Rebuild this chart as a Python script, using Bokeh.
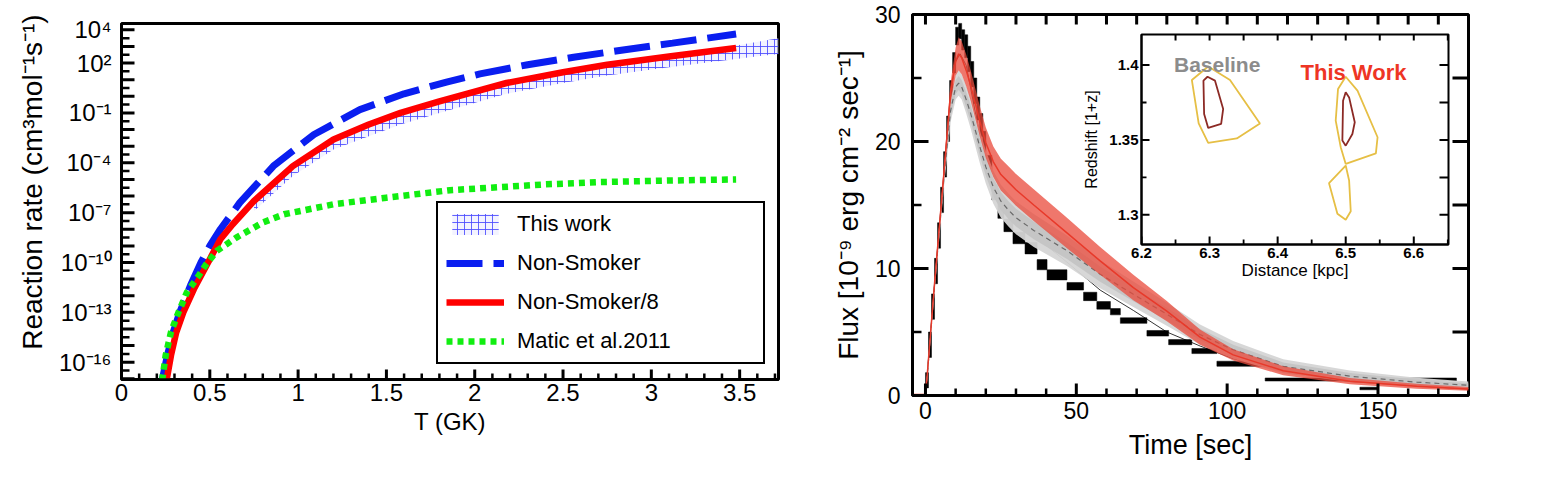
import json
import math
import numpy as np
from bokeh.plotting import figure
from bokeh.models import Range1d, FixedTicker, Legend, LegendItem, CustomJSTickFormatter
from bokeh.layouts import row
from bokeh.embed import file_html
from bokeh.resources import INLINE
from bokeh.core.properties import value

FONT = "Liberation Sans"

# ---------------- Left panel data (log10 of reaction rate) ----------------
T_nonsmoker = [0.23, 0.26, 0.29, 0.33, 0.39, 0.45, 0.50, 0.56, 0.67, 0.86, 1.09,
               1.35, 1.60, 1.84, 2.03, 2.30, 2.56, 2.85, 3.12, 3.48]
log_nonsmoker = [-17.1, -15.6, -14.3, -13.0, -11.4, -10.0, -9.0, -8.0, -6.4, -4.2, -2.3,
                 -0.8, 0.15, 0.85, 1.35, 1.9, 2.35, 2.8, 3.2, 3.75]

T_ns8 = [0.255, 0.28, 0.31, 0.35, 0.41, 0.50, 0.56, 0.63, 0.75, 0.97, 1.20, 1.40,
         1.58, 1.80, 2.18, 2.50, 2.75, 3.10, 3.48]
log_ns8 = [-17.1, -15.6, -14.2, -13.0, -11.6, -9.8, -8.6, -7.7, -6.3, -4.2, -2.6, -1.7,
           -1.0, -0.3, 0.8, 1.45, 1.9, 2.4, 2.9]

T_matic = [0.23, 0.25, 0.28, 0.315, 0.37, 0.43, 0.48, 0.54, 0.65, 0.80, 0.92, 1.20,
           1.50, 1.86, 2.40, 2.71, 3.10, 3.48]
log_matic = [-17.1, -15.6, -14.2, -13.2, -11.8, -10.9, -10.1, -9.3, -8.5, -7.6, -7.1, -6.5,
             -6.1, -5.65, -5.3, -5.16, -5.07, -5.0]

T_band = [0.75, 0.97, 1.20, 1.40, 1.58, 1.80, 2.18, 2.50, 2.75, 3.10, 3.48, 3.72]
log_band_lo = [-6.9, -4.8, -3.2, -2.4, -1.7, -1.0, 0.15, 0.8, 1.25, 1.75, 2.25, 2.55]
log_band_hi = [-6.2, -4.05, -2.45, -1.55, -0.85, -0.15, 0.95, 1.6, 2.05, 2.55, 3.05, 3.5]

x1_ticks = [0, 0.5, 1, 1.5, 2, 2.5, 3, 3.5]
x1_minor = [0.1, 0.2, 0.3, 0.4, 0.6, 0.7, 0.8, 0.9, 1.1, 1.2, 1.3, 1.4, 1.6, 1.7, 1.8, 1.9,
            2.1, 2.2, 2.3, 2.4, 2.6, 2.7, 2.8, 2.9, 3.1, 3.2, 3.3, 3.4, 3.6, 3.7]
y1_exponents = list(range(-17, 5))
y1_minor_exponents = [k + 0.5 for k in range(-17, 4)]
y1_labeled_exponents = [-16, -13, -10, -7, -4, -1, 2, 4]

# ---------------- Right panel data ----------------
bin_lo = [0, 1, 2, 3, 4, 5, 6, 7, 8, 9, 10, 11, 12, 13, 14, 15, 16, 17, 18, 19, 20, 22, 24,
          26, 29, 33, 37, 40.3, 46.9, 52.4, 56.8, 61.3, 64.6, 73.4, 80.6, 88.3, 96.6, 112.6, 144]
bin_hi = [1, 2, 3, 4, 5, 6, 7, 8, 9, 10, 11, 12, 13, 14, 15, 16, 17, 18, 19, 20, 22, 24, 26,
          29, 33, 37, 40.3, 46.9, 52.4, 56.8, 61.3, 64.6, 73.4, 80.6, 88.3, 96.6, 112.6, 176, 150]
flux_obs = [1.2, 4.0, 7.0, 9.8, 12.6, 15.4, 18.2, 21.0, 23.8, 26.2, 28.3, 28.7, 28.0, 27.5,
            26.5, 25.3, 24.0, 22.6, 21.3, 20.0, 18.2, 16.0, 14.5, 13.4, 12.4, 11.6, 10.3, 9.5,
            8.6, 7.8, 7.1, 6.6, 5.9, 4.9, 4.2, 3.5, 2.5, 1.26, 0.55]
flux_err = [0.6, 1.0, 1.0, 1.0, 1.0, 1.0, 1.0, 1.0, 1.0, 0.8, 0.7, 0.6, 0.8, 0.9, 1.0, 1.0,
            1.0, 0.9, 0.9, 0.8, 0.7, 0.6, 0.55, 0.5, 0.45, 0.45, 0.4, 0.4, 0.3, 0.33, 0.3,
            0.25, 0.22, 0.22, 0.2, 0.2, 0.2, 0.12, 0.1]

t_model = [-4.3, 0, 0.5, 3, 6, 8.3, 10, 11, 12, 13.5, 15, 18, 20, 22.5, 25, 27.5, 30, 35.9,
           46.9, 57.9, 68.9, 80, 91, 102, 118.6, 140.7, 162.8, 180]
flux_this_work = [0.08, 0.1, 1.4, 8.8, 17.2, 23.8, 26.3, 26.9, 26.6, 25.6, 24.4, 21.6, 19.9,
                  18.4, 17.4, 16.8, 16.2, 15.0, 12.8, 10.6, 8.5, 6.65, 4.6, 3.2, 1.95, 1.13,
                  0.73, 0.52]
width_this_work = [0, 0, 0.2, 0.4, 0.6, 0.8, 1.1, 1.3, 1.3, 1.25, 1.2, 1.2, 1.2, 1.2, 1.25,
                   1.25, 1.25, 1.25, 1.2, 1.1, 1.0, 0.8, 0.6, 0.45, 0.35, 0.25, 0.2, 0.15]
flux_baseline = [0.0, 0.0, 1.3, 8.6, 16.8, 22.4, 24.3, 24.6, 24.3, 23.3, 22.2, 19.6, 18.0,
                 16.4, 15.3, 14.6, 14.0, 13.0, 11.4, 9.55, 7.97, 6.4, 4.8, 3.6, 2.3, 1.52,
                 1.05, 0.81]
width_baseline_outer = [0, 0, 0.3, 0.5, 0.7, 0.9, 1.0, 1.0, 1.0, 1.1, 1.2, 1.3, 1.3, 1.3,
                        1.3, 1.3, 1.3, 1.3, 1.2, 1.1, 1.0, 0.9, 0.8, 0.7, 0.55, 0.45, 0.35,
                        0.3]
width_baseline_inner = [0, 0, 0.15, 0.3, 0.4, 0.5, 0.55, 0.55, 0.55, 0.6, 0.65, 0.7, 0.7,
                        0.7, 0.7, 0.7, 0.7, 0.7, 0.65, 0.6, 0.55, 0.5, 0.45, 0.4, 0.3, 0.25,
                        0.2, 0.15]
t_thin = [0.5, 3, 6, 8.3, 10, 11.5, 13.5, 18, 24.8, 35.9, 46.9, 57.9, 68.9, 80, 91, 102,
          118.6, 140.7, 180]
flux_thin = [1.4, 8.8, 17.2, 23.8, 26.3, 26.9, 26.0, 20.5, 15.0, 12.6, 10.5, 8.3, 6.7, 5.0,
             3.9, 2.9, 1.9, 1.1, 0.5]

x2_ticks = [0, 50, 100, 150]
x2_minor = [10, 20, 30, 40, 60, 70, 80, 90, 110, 120, 130, 140, 160, 170]
x2_top = [0, 10, 20, 30, 40, 50, 60, 70, 80, 90, 100, 110, 120, 130, 140, 150, 160, 170]
y2_ticks = [0, 10, 20, 30]
y2_minor = [5, 15, 25]
y2_right = [5, 10, 15, 20, 25]

# ---------------- Inset data (contours) ----------------
base_outer_x = [6.274, 6.298, 6.330, 6.374, 6.340, 6.298, 6.284]
base_outer_y = [1.390, 1.399, 1.390, 1.361, 1.351, 1.348, 1.361]
base_inner_x = [6.291, 6.297, 6.308, 6.320, 6.317, 6.298, 6.292]
base_inner_y = [1.3896, 1.3922, 1.3896, 1.3707, 1.3607, 1.3580, 1.3673]
work_outer1_x = [6.500, 6.4887, 6.4853, 6.4927, 6.500, 6.5443, 6.5468, 6.5173]
work_outer1_y = [1.3922, 1.384, 1.3629, 1.3451, 1.334, 1.3411, 1.3518, 1.3829]
work_outer2_x = [6.500, 6.4755, 6.4878, 6.500, 6.5074, 6.5050]
work_outer2_y = [1.3329, 1.3211, 1.3007, 1.2967, 1.3024, 1.3229]
work_inner_x = [6.500, 6.4961, 6.4951, 6.500, 6.5098, 6.5133, 6.5050]
work_inner_y = [1.3818, 1.3762, 1.3496, 1.3462, 1.354, 1.3618, 1.3784]

x3_ticks = [6.2, 6.3, 6.4, 6.5, 6.6]
x3_minor = [6.25, 6.35, 6.45, 6.55, 6.65]
x3_top = [6.25, 6.3, 6.35, 6.4, 6.45, 6.5, 6.55, 6.6, 6.65]
y3_ticks = [1.3, 1.35, 1.4]
y3_minor = [1.325, 1.375]
y3_right = [1.3, 1.325, 1.35, 1.375, 1.4]


def frame_style(p, lw):
    p.grid.visible = False
    p.outline_line_color = "black"
    p.outline_line_width = lw
    p.outline_line_alpha = 1


def axis_style(ax, label_size, width):
    ax.axis_line_color = "black"
    ax.axis_line_width = width
    ax.major_tick_in = 0
    ax.major_tick_out = 0
    ax.minor_tick_in = 0
    ax.minor_tick_out = 0
    ax.major_label_text_font = FONT
    ax.major_label_text_font_size = label_size
    ax.major_label_text_color = "black"
    ax.axis_label_text_font = FONT
    ax.axis_label_text_font_style = "normal"
    ax.axis_label_text_color = "black"


class Frame:
    """Inward tick marks drawn as small filled quads, sized in pixels of the frame."""

    def __init__(self, p, X, Y, fw, fh, ylog=False):
        self.p, self.X, self.Y, self.fw, self.fh, self.ylog = p, X, Y, fw, fh, ylog

    def _ymove(self, y, px):
        if self.ylog:
            dec = math.log10(self.Y[1]) - math.log10(self.Y[0])
            return y * 10 ** (px / self.fh * dec)
        return y + px / self.fh * (self.Y[1] - self.Y[0])

    def _xmove(self, x, px):
        return x + px / self.fw * (self.X[1] - self.X[0])

    def ticks(self, side, pos, length, width):
        n = len(pos)
        if side in ("bottom", "top"):
            edge = self.Y[0] if side == "bottom" else self.Y[1]
            end = self._ymove(edge, length if side == "bottom" else -length)
            left = [self._xmove(v, -width / 2) for v in pos]
            right = [self._xmove(v, width / 2) for v in pos]
            bottom = [min(edge, end)] * n
            top = [max(edge, end)] * n
        else:
            edge = self.X[0] if side == "left" else self.X[1]
            end = self._xmove(edge, length if side == "left" else -length)
            left = [min(edge, end)] * n
            right = [max(edge, end)] * n
            bottom = [self._ymove(v, -width / 2) for v in pos]
            top = [self._ymove(v, width / 2) for v in pos]
        self.p.quad(left=left, right=right, bottom=bottom, top=top,
                    fill_color="black", line_color=None)


# ================= LEFT FIGURE =================
X1 = (0, 3.72)
Y1 = (10 ** -17.04, 10 ** 4.38)
W1, H1, L1, R1, T1, B1 = 790, 470, 121, 12, 23, 91
p1 = figure(width=W1, height=H1, x_range=Range1d(*X1), y_range=Range1d(*Y1),
            y_axis_type="log", output_backend="svg", toolbar_location=None, title=None,
            frame_align=False,
            min_border_left=L1, min_border_right=R1, min_border_top=T1,
            min_border_bottom=B1)
frame_style(p1, 3)
f1 = Frame(p1, X1, Y1, W1 - L1 - R1, H1 - T1 - B1, ylog=True)

r_band = p1.varea(x=T_band, y1=10.0 ** np.array(log_band_lo),
                  y2=10.0 ** np.array(log_band_hi),
                  fill_color="#eeeeff", fill_alpha=0.7, hatch_pattern="cross",
                  hatch_color="#4a4aff", hatch_scale=7, hatch_weight=1, hatch_alpha=0.85)
r_blue = p1.line(T_nonsmoker, 10.0 ** np.array(log_nonsmoker), line_color="#0a1ef0",
                 line_width=7, line_dash="36 11")
r_red = p1.line(T_ns8, 10.0 ** np.array(log_ns8), line_color="#ff0000", line_width=6.5,
                line_join="round")
r_green = p1.line(T_matic, 10.0 ** np.array(log_matic), line_color="#11ee11", line_width=6.5,
                  line_dash="6 5")

f1.ticks("bottom", x1_ticks, 10, 3)
f1.ticks("bottom", x1_minor, 6, 2.5)
f1.ticks("left", [10.0 ** e for e in y1_exponents], 13, 3)
f1.ticks("left", [10.0 ** e for e in y1_minor_exponents], 8, 2.5)

xa1 = p1.xaxis[0]
axis_style(xa1, "24px", 2.5)
xa1.ticker = FixedTicker(ticks=x1_ticks, minor_ticks=[])
xa1.formatter = CustomJSTickFormatter(code="return String(Math.round(tick*10)/10);")
xa1.axis_label = "T (GK)"
xa1.axis_label_text_font_size = "24px"
xa1.major_label_standoff = 4
xa1.axis_label_standoff = 4

ya1 = p1.yaxis[0]
axis_style(ya1, "24px", 2.5)
ya1.ticker = FixedTicker(ticks=[10.0 ** e for e in y1_exponents], minor_ticks=[])
ya1.formatter = CustomJSTickFormatter(code="""
const labeled = %s;
const e = Math.round(Math.log10(tick));
if (!labeled.includes(e)) return "";
const sup = {"-":"\u207b","0":"\u2070","1":"\u00b9","2":"\u00b2","3":"\u00b3","4":"\u2074",
             "5":"\u2075","6":"\u2076","7":"\u2077","8":"\u2078","9":"\u2079"};
return "10" + String(e).split("").map(c => sup[c]).join("");
""" % json.dumps(y1_labeled_exponents))
ya1.axis_label = "\u00a0\u00a0\u00a0\u00a0\u00a0Reaction rate (cm\u00b3mol\u207b\u00b9s\u207b\u00b9)"
ya1.axis_label_text_font_size = "28px"
ya1.major_label_standoff = 10
ya1.axis_label_standoff = 8

legend = Legend(items=[LegendItem(label="This work", renderers=[r_band]),
                       LegendItem(label="Non-Smoker", renderers=[r_blue]),
                       LegendItem(label="Non-Smoker/8", renderers=[r_red]),
                       LegendItem(label="Matic et al.2011", renderers=[r_green])],
                location=(315, 15), label_text_font=FONT, label_text_font_size="22px",
                label_text_color="black", glyph_width=58, glyph_height=26,
                label_height=26, label_width=238, label_standoff=13, padding=8,
                spacing=13, border_line_color="black", border_line_width=2,
                border_line_alpha=1, background_fill_color="white",
                background_fill_alpha=1, margin=0)
p1.add_layout(legend)

# ================= RIGHT FIGURE =================
X2 = (-4.3, 180)
Y2 = (0, 30)
W2, H2, L2, R2, T2, B2 = 760, 470, 122, 82, 14, 75
p2 = figure(width=W2, height=H2, x_range=Range1d(*X2), y_range=Range1d(*Y2),
            output_backend="svg", toolbar_location=None, title=None, frame_align=False,
            min_border_left=L2, min_border_right=R2, min_border_top=T2,
            min_border_bottom=B2)
frame_style(p2, 3)
f2 = Frame(p2, X2, Y2, W2 - L2 - R2, H2 - T2 - B2)

fo = np.array(flux_obs)
fe = np.array(flux_err)
p2.quad(left=bin_lo, right=bin_hi, bottom=fo - fe, top=fo + fe, fill_color="black",
        line_color="black", line_width=0.5)
p2.line(t_thin, flux_thin, line_color="black", line_width=0.8)

fb = np.array(flux_baseline)
wbo = np.array(width_baseline_outer)
wbi = np.array(width_baseline_inner)
p2.varea(x=t_model, y1=fb - wbo, y2=fb + wbo, fill_color="#d5d5d5", fill_alpha=0.95)
p2.varea(x=t_model, y1=fb - wbi, y2=fb + wbi, fill_color="#c4c4c4", fill_alpha=0.95)
p2.line(t_model, flux_baseline, line_color="#6a6a6a", line_width=1.2, line_dash="5 4")

fw = np.array(flux_this_work)
ww = np.array(width_this_work)
p2.varea(x=t_model, y1=fw - ww, y2=fw + ww, fill_color="#ea4a3b", fill_alpha=0.75)
p2.line(t_model, flux_this_work, line_color="#e8392a", line_width=1.5)

f2.ticks("bottom", x2_ticks, 12, 3)
f2.ticks("bottom", x2_minor, 7, 2.5)
f2.ticks("left", y2_ticks, 16, 3)
f2.ticks("left", y2_minor, 9, 2.5)
f2.ticks("top", x2_top, 10, 3)
f2.ticks("right", y2_right, 16, 3)

xa2 = p2.xaxis[0]
axis_style(xa2, "23px", 3)
xa2.ticker = FixedTicker(ticks=x2_ticks, minor_ticks=[])
xa2.axis_label = "Time [sec]"
xa2.axis_label_text_font_size = "27px"
xa2.major_label_standoff = 6
xa2.axis_label_standoff = 8

ya2 = p2.yaxis[0]
axis_style(ya2, "23px", 3)
ya2.ticker = FixedTicker(ticks=y2_ticks, minor_ticks=[])
ya2.axis_label = "Flux [10\u207b\u2079 erg cm\u207b\u00b2 sec\u207b\u00b9]"
ya2.axis_label_text_font_size = "28px"
ya2.major_label_standoff = 12
ya2.axis_label_standoff = 8

# ================= INSET =================
X3 = (6.2, 6.651)
Y3 = (1.2802, 1.4204)
W3, H3, L3, R3, T3, B3 = 380, 260, 61, 12, 9, 41
p3 = figure(width=W3, height=H3, x_range=Range1d(*X3), y_range=Range1d(*Y3),
            output_backend="svg", toolbar_location=None, title=None, frame_align=False,
            min_border_left=L3, min_border_right=R3, min_border_top=T3,
            min_border_bottom=B3, margin=(25, 0, 0, -470),
            border_fill_color=None, background_fill_color="white")
frame_style(p3, 2)
f3 = Frame(p3, X3, Y3, W3 - L3 - R3, H3 - T3 - B3)

gold = "#e6bf45"
dred = "#8c2a25"
p3.patches(xs=[base_outer_x, work_outer1_x, work_outer2_x],
           ys=[base_outer_y, work_outer1_y, work_outer2_y],
           fill_color=None, line_color=gold, line_width=1.8)
p3.patches(xs=[base_inner_x, work_inner_x], ys=[base_inner_y, work_inner_y],
           fill_color=None, line_color=dred, line_width=1.8)
p3.text(x=[6.2477], y=[1.4007], text=["Baseline"], text_font=value(FONT),
        text_font_style="bold", text_color="#8c8c8c", text_font_size="21px",
        text_baseline="alphabetic")
p3.text(x=[6.4336], y=[1.3951], text=["This Work"], text_font=value(FONT),
        text_font_style="bold", text_color="#ee3524", text_font_size="22px",
        text_baseline="alphabetic")

f3.ticks("bottom", x3_ticks, 8, 2)
f3.ticks("bottom", x3_minor, 5, 1.8)
f3.ticks("left", y3_ticks, 8, 2)
f3.ticks("left", y3_minor, 5, 1.8)
f3.ticks("top", x3_top, 6, 2)
f3.ticks("right", y3_right, 9, 2)

inset_fmt = CustomJSTickFormatter(code="return String(parseFloat(tick.toFixed(3)));")
xa3 = p3.xaxis[0]
axis_style(xa3, "15px", 2)
xa3.ticker = FixedTicker(ticks=x3_ticks, minor_ticks=[])
xa3.formatter = inset_fmt
xa3.major_label_text_font_style = "bold"
xa3.axis_label = "Distance [kpc]"
xa3.axis_label_text_font_size = "17px"
xa3.major_label_standoff = 3
xa3.axis_label_standoff = 0

ya3 = p3.yaxis[0]
axis_style(ya3, "15px", 2)
ya3.ticker = FixedTicker(ticks=y3_ticks, minor_ticks=[])
ya3.formatter = inset_fmt
ya3.major_label_text_font_style = "bold"
ya3.axis_label = "Redshift [1+z]"
ya3.axis_label_text_font_size = "16px"
ya3.major_label_standoff = 3
ya3.axis_label_standoff = 6

layout = row(p1, p2, p3)
open("out.html", "w").write(file_html(layout, INLINE))
